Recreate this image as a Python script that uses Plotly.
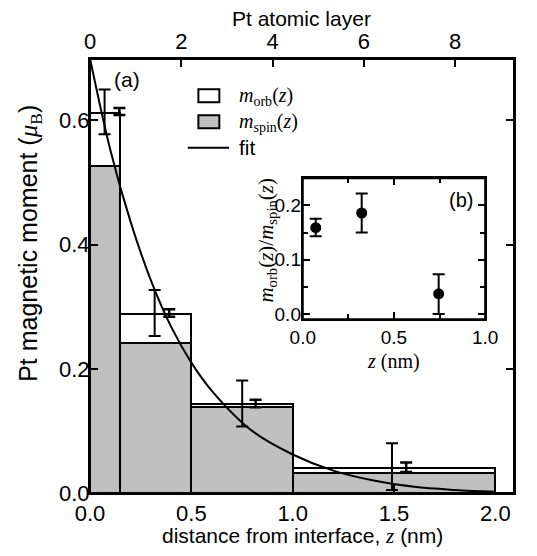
import plotly.graph_objects as go

# ---------------- data ----------------
bin_left = [0.0, 0.15, 0.5, 1.0]
bin_right = [0.15, 0.5, 1.0, 2.0]
m_spin = [0.527, 0.242, 0.138, 0.032]
m_orb = [0.085, 0.046, 0.005, 0.009]

err_a_x = [0.072, 0.319, 0.751, 1.49]
err_a_y = [0.614, 0.290, 0.144, 0.0425]
err_a_e = [0.036, 0.037, 0.037, 0.0375]

err_b_x = [0.145, 0.391, 0.817, 1.56]
err_b_y = [0.6145, 0.290, 0.144, 0.0415]
err_b_e = [0.0055, 0.006, 0.006, 0.0075]

fit_z = [0.0, 0.1, 0.2, 0.3, 0.4, 0.5, 0.6, 0.8, 1.0, 1.2, 1.4, 1.6, 1.8, 2.0]
fit_m = [0.70, 0.553, 0.437, 0.343, 0.268, 0.210, 0.165, 0.100, 0.062, 0.036, 0.020, 0.010, 0.005, 0.002]

ratio_z = [0.071, 0.323, 0.745]
ratio_v = [0.159, 0.186, 0.037]
ratio_ep = [0.0165, 0.036, 0.036]
ratio_em = [0.016, 0.036, 0.037]

x_ticks = [0.0, 0.5, 1.0, 1.5, 2.0]
y_ticks = [0.0, 0.2, 0.4, 0.6]
layer_ticks = [0, 2, 4, 6, 8]
inset_x_ticks = [0.0, 0.5, 1.0]
inset_y_ticks = [0.0, 0.1, 0.2]

# ---------------- layout helpers ----------------
OFF = 8  # default page body margin
W, H = 537 - 2 * OFF, 556 - 2 * OFF
L, R, T, B = 90 - OFF, 527 - OFF, 59 - OFF, 493 - OFF
SANS = "Liberation Sans, Arial, sans-serif"
SERIF = "Liberation Serif, Times New Roman, serif"


def PX(x):  # reference page pixel -> paper
    return (x - OFF - L) / (R - L)


def PY(y):
    return (B - (y - OFF)) / (B - T)


centers = [(a + b) / 2 for a, b in zip(bin_left, bin_right)]
widths = [b - a for a, b in zip(bin_left, bin_right)]

fig = go.Figure()

fig.add_trace(go.Bar(x=centers, y=m_spin, width=widths,
                     marker=dict(color="#c0c0c0", line=dict(color="black", width=2)),
                     showlegend=False))
fig.add_trace(go.Bar(x=centers, y=m_orb, base=m_spin, width=widths,
                     marker=dict(color="white", line=dict(color="black", width=2)),
                     showlegend=False))

fig.add_trace(go.Scatter(x=fit_z, y=fit_m, mode="lines", line=dict(color="black", width=2, shape="spline"),
                         showlegend=False))

fig.add_trace(go.Scatter(x=err_a_x, y=err_a_y, mode="markers",
                         marker=dict(size=1, color="rgba(0,0,0,0)"),
                         error_y=dict(type="data", array=err_a_e, color="black", thickness=2, width=6),
                         showlegend=False))
fig.add_trace(go.Scatter(x=err_b_x, y=err_b_y, mode="markers",
                         marker=dict(size=1, color="rgba(0,0,0,0)"),
                         error_y=dict(type="data", array=err_b_e, color="black", thickness=2.5, width=6),
                         showlegend=False))

# empty trace so the top (atomic layer) axis is drawn
fig.add_trace(go.Scatter(x=layer_ticks, y=[None] * len(layer_ticks), xaxis="x2", yaxis="y",
                         mode="markers", hoverinfo="skip", showlegend=False))

# inset
fig.add_trace(go.Scatter(x=ratio_z, y=ratio_v, mode="markers", xaxis="x3", yaxis="y3",
                         marker=dict(size=11, color="black"),
                         error_y=dict(type="data", symmetric=False, array=ratio_ep, arrayminus=ratio_em,
                                      color="black", thickness=2, width=6),
                         showlegend=False))

axis_common = dict(showline=True, linewidth=2, linecolor="black", ticks="inside", tickwidth=2,
                   tickcolor="black", showgrid=False, zeroline=False)
main_font = dict(family=SANS, size=22, color="black")
inset_font = dict(family=SANS, size=19, color="black")

fig.update_layout(
    width=W, height=H,
    margin=dict(l=L, r=W - R, t=T, b=H - B, pad=0),
    plot_bgcolor="white", paper_bgcolor="white",
    barmode="overlay", bargap=0,
    xaxis=dict(domain=[0, 1], range=[0, 2.092], tickvals=x_ticks, tickformat=".1f", ticklen=8,
               anchor="y", mirror=False, tickfont=main_font, ticklabelstandoff=0, **axis_common),
    xaxis2=dict(overlaying="x", side="top", range=[0, 9.29], tickvals=layer_ticks, ticklen=8,
                anchor="y", tickfont=main_font, ticklabelstandoff=-1, **axis_common),
    yaxis=dict(domain=[0, 1], range=[0, 0.699], tickvals=y_ticks, tickformat=".1f", ticklen=8,
               mirror="ticks", anchor="x", tickfont=main_font, ticklabelstandoff=-6, **axis_common),
    xaxis3=dict(domain=[PX(309.3), PX(497.3)], range=[0, 1], tickvals=inset_x_ticks, tickformat=".1f",
                ticklen=7, mirror="ticks", anchor="y3", tickfont=inset_font,
                minor=dict(dtick=0.25, ticks="inside", ticklen=5, tickwidth=2, tickcolor="black"),
                **axis_common),
    yaxis3=dict(domain=[PY(319.3), PY(178.3)], range=[-0.01, 0.25], tickvals=inset_y_ticks, tickformat=".1f",
                ticklen=7, mirror="ticks", anchor="x3", tickfont=inset_font, ticklabelstandoff=-4,
                minor=dict(dtick=0.05, ticks="inside", ticklen=5, tickwidth=2, tickcolor="black"),
                **axis_common),
)

# frames + legend (drawn manually)
shapes = [
    dict(type="rect", xref="paper", yref="paper", x0=0, x1=1, y0=0, y1=1,
         line=dict(color="black", width=2), layer="above"),
    dict(type="rect", xref="x3 domain", yref="y3 domain", x0=0, x1=1, y0=0, y1=1,
         line=dict(color="black", width=2), layer="above"),
    dict(type="rect", xref="paper", yref="paper", x0=PX(201.7), x1=PX(223.3), y0=PY(102.3), y1=PY(89.3),
         fillcolor="white", line=dict(color="black", width=2)),
    dict(type="rect", xref="paper", yref="paper", x0=PX(201.7), x1=PX(223.3), y0=PY(128.3), y1=PY(115.3),
         fillcolor="#c0c0c0", line=dict(color="black", width=2)),
    dict(type="line", xref="paper", yref="paper", x0=PX(190.7), x1=PX(233.3), y0=PY(147.7), y1=PY(147.7),
         line=dict(color="black", width=2)),
]
fig.update_layout(shapes=shapes)


def ann(text, x, y, size, family=SANS, xanchor="center", angle=0):
    fig.add_annotation(text=text, xref="paper", yref="paper", x=PX(x), y=PY(y), showarrow=False,
                       xanchor=xanchor, yanchor="middle", textangle=angle,
                       font=dict(family=family, size=size, color="black"))


ann("<i>m</i><sub>orb</sub>(<i>z</i>)", 242, 96, 20, family=SERIF, xanchor="left")
ann("<i>m</i><sub>spin</sub>(<i>z</i>)", 242, 122, 20, family=SERIF, xanchor="left")
ann("fit", 242, 147, 21, xanchor="left")
ann("(a)", 128, 80, 21)
ann("(b)", 472, 200, 20)
ann("Pt atomic layer", 308, 18, 21)
ann("distance from interface, <span style='font-family:Liberation Serif'><i>z</i></span> (nm)", 309, 536, 21)
ann("Pt magnetic moment (<span style='font-family:Liberation Serif'><i>μ</i><sub>B</sub></span>)", 28, 243, 25,
    angle=-90)
ann("<i>m</i><sub>orb</sub>(<i>z</i>)/<i>m</i><sub>spin</sub>(<i>z</i>)", 272, 240, 21, family=SERIF, angle=-90)
ann("<i>z</i> (nm)", 403, 362, 20, family=SERIF)

fig.write_html("out.html")
